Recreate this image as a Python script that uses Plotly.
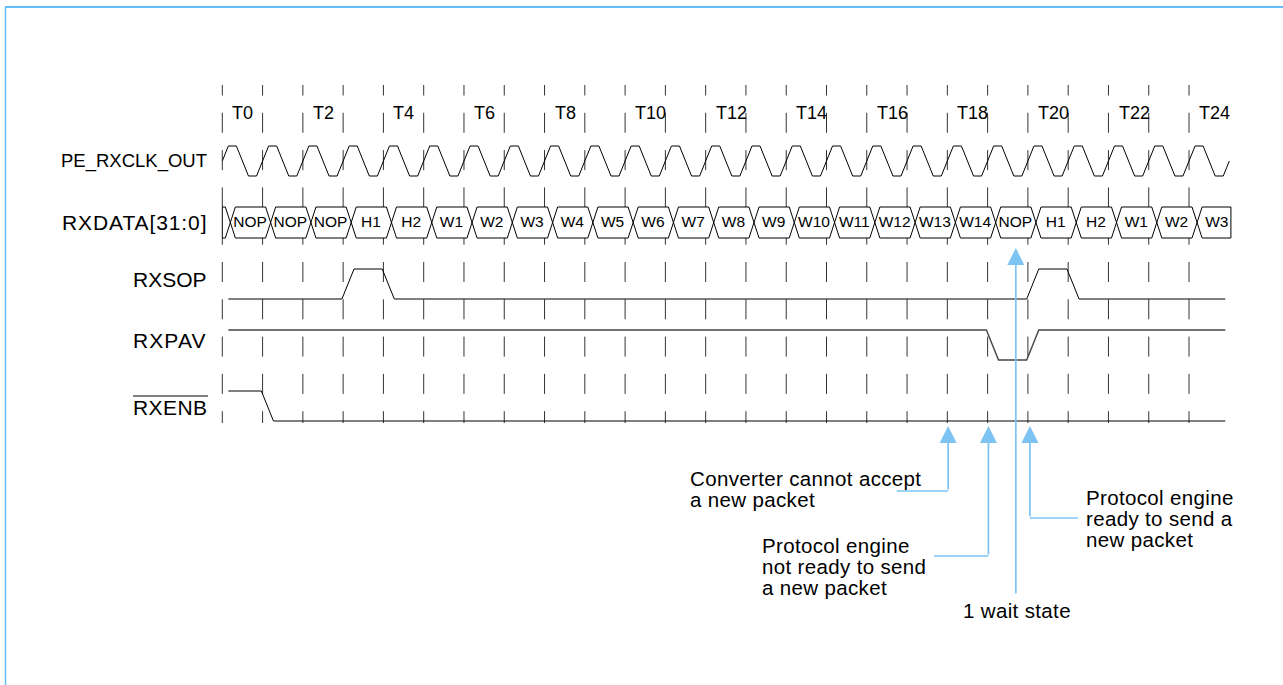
import plotly.graph_objects as go

# ---------------- data ----------------
tick_cycles = list(range(25))                      # T0 .. T24 tick marks
tick_label_cycles = [0, 2, 4, 6, 8, 10, 12, 14, 16, 18, 20, 22, 24]
tick_labels = ["T0", "T2", "T4", "T6", "T8", "T10", "T12", "T14", "T16", "T18", "T20", "T22", "T24"]

signal_names = ["PE_RXCLK_OUT", "RXDATA[31:0]", "RXSOP", "RXPAV", "RXENB"]

clock_cycles = 25
data_words = ["NOP", "NOP", "NOP", "H1", "H2", "W1", "W2", "W3", "W4", "W5", "W6", "W7",
              "W8", "W9", "W10", "W11", "W12", "W13", "W14", "NOP", "H1", "H2", "W1", "W2", "W3"]
rxsop_levels = [0, 0, 0, 1, 0, 0, 0, 0, 0, 0, 0, 0, 0, 0, 0, 0, 0, 0, 0, 0, 1, 0, 0, 0, 0]
rxpav_levels = [1, 1, 1, 1, 1, 1, 1, 1, 1, 1, 1, 1, 1, 1, 1, 1, 1, 1, 1, 0, 1, 1, 1, 1, 1]
rxenb_levels = [1, 0, 0, 0, 0, 0, 0, 0, 0, 0, 0, 0, 0, 0, 0, 0, 0, 0, 0, 0, 0, 0, 0, 0, 0]

notes = [["Converter cannot accept", "a new packet"],
         ["Protocol engine", "not ready to send", "a new packet"],
         ["Protocol engine", "ready to send a", "new packet"],
         ["1 wait state"]]
note_cycles = [18.02, 19.02, 20.05, 19.7]      # where each arrow points (in clock cycles)

# ---------------- layout constants ----------------
W, H = 1283, 685
T0_PX, PERIOD_PX = 222.3, 40.28
FONT = "Liberation Sans"
BLUE = "#7DC4F5"
FRAME = "#66BEFF"

ROW = {  # (high y, low y) in page pixels
    "clk": (146, 176), "data": (207, 238), "sop": (269, 299), "pav": (330, 360), "enb": (391, 421)}
LABEL_Y = [161, 222.5, 279, 340, 407]
LABEL_SIZE = [18.5, 21, 21, 21, 21]
LABEL_SPACING = [0, 0.9, 0, 1.1, 0.4]


def px2t(px):
    return (px - T0_PX) / PERIOD_PX


def spaced(text, ls):
    if not ls:
        return text
    return '<span style="letter-spacing:%spx">%s</span>' % (ls, text)


fig = go.Figure()

# ---- vertical dashed tick lines ----
tx, ty = [], []
y_top, y_bot, d0, dper, dlen = 85, 423, 75.5, 37.3, 20
band = ROW["data"]
for k in tick_cycles:
    s = d0
    while s < y_bot:
        a, b = max(s, y_top), min(s + dlen, y_bot)
        if a < b:
            pieces = []
            if a < band[0]:
                pieces.append((a, min(b, band[0])))
            if b > band[1]:
                pieces.append((max(a, band[1]), b))
            for p, q in pieces:
                tx += [k, k, None]
                ty += [p, q, None]
        s += dper
fig.add_trace(go.Scatter(x=tx, y=ty, mode="lines", line=dict(color="#333333", width=1),
                         hoverinfo="skip", showlegend=False))

# ---- clock ----
hi, lo = ROW["clk"]
mid = (hi + lo) / 2
cx, cy = [0], [mid]
for k in range(clock_cycles):
    cx += [k + 0.15, k + 0.35, k + 0.65, k + 0.85]
    cy += [hi, hi, lo, lo]
cx.append(clock_cycles)
cy.append(mid)
fig.add_trace(go.Scatter(x=cx, y=cy, mode="lines", line=dict(color="black", width=1),
                         hoverinfo="skip", showlegend=False))

# ---- data bus ----
top, bot = ROW["data"]
dmid = (top + bot) / 2
h = 0.125
n = len(data_words)
end = n + 0.04
ax_, ay_ = [0], [top]
bx_, by_ = [0], [bot]
up = True
for k in range(n):
    c = k + 0.2
    if up:
        ax_ += [c - h, c + h]; ay_ += [top, bot]
        bx_ += [c - h, c + h]; by_ += [bot, top]
    else:
        ax_ += [c - h, c + h]; ay_ += [bot, top]
        bx_ += [c - h, c + h]; by_ += [top, bot]
    up = not up
ax_ += [end, end]; ay_ += [ay_[-1], by_[-1]]
bx_ += [end]; by_ += [by_[-1]]
for xs, ys in ((ax_, ay_), (bx_, by_), ([0, 0], [top, bot])):
    fig.add_trace(go.Scatter(x=xs, y=ys, mode="lines", line=dict(color="black", width=1),
                             hoverinfo="skip", showlegend=False))
fig.add_trace(go.Scatter(x=[k + 0.69 for k in range(n)], y=[dmid + 0.5] * n, mode="text",
                         text=data_words, textfont=dict(family=FONT, size=15.5, color="black"),
                         hoverinfo="skip", showlegend=False))


# ---- level signals ----
def level_wave(levels, row, color, width):
    hi_, lo_ = ROW[row]
    yv = lambda v: hi_ if v else lo_
    xs, ys = [0.15], [yv(levels[0])]
    for k in range(1, len(levels)):
        if levels[k] != levels[k - 1]:
            xs += [k - 0.03, k + 0.27]
            ys += [yv(levels[k - 1]), yv(levels[k])]
    xs.append(len(levels) - 0.1)
    ys.append(yv(levels[-1]))
    fig.add_trace(go.Scatter(x=xs, y=ys, mode="lines", line=dict(color=color, width=width),
                             hoverinfo="skip", showlegend=False))


level_wave(rxsop_levels, "sop", "black", 1)
level_wave(rxpav_levels, "pav", "#444444", 1.4)
level_wave(rxenb_levels, "enb", "black", 1)

annotations = []
# ---- tick labels ----
for k, lab in zip(tick_label_cycles, tick_labels):
    annotations.append(dict(x=k + 0.2, y=113, xref="x", yref="y", text=lab, showarrow=False,
                            xanchor="left", yanchor="middle",
                            font=dict(family=FONT, size=18, color="black")))
# ---- signal names ----
for name, yy, fs, ls in zip(signal_names, LABEL_Y, LABEL_SIZE, LABEL_SPACING):
    annotations.append(dict(x=px2t(209), y=yy, xref="x", yref="y", text=spaced(name, ls),
                            showarrow=False, xanchor="right", yanchor="middle",
                            font=dict(family=FONT, size=fs, color="black")))

# ---- callouts ----
note_font = dict(family=FONT, size=20.5, color="black")
note_text_pos = [(688, 478, "left"), (760, 545, "left"), (1084, 497, "left"), (1017, 610, "center")]
LINE_STEP = 21
leader_from = [896.7, 934, 1078, None]
leader_y = [491, 556, 518, 595]
tip_y = [426, 426, 426, 248]
for i, lines in enumerate(notes):
    lx, ly, anc = note_text_pos[i]
    for j, line in enumerate(lines):
        annotations.append(dict(x=px2t(lx), y=ly + j * LINE_STEP, xref="x", yref="y",
                                text=spaced(line, 0.35),
                                showarrow=False, xanchor=anc, yanchor="middle", font=note_font))
    xt = note_cycles[i]
    if leader_from[i] is not None:
        fig.add_trace(go.Scatter(x=[px2t(leader_from[i]), xt], y=[leader_y[i], leader_y[i]],
                                 mode="lines", line=dict(color=BLUE, width=1.5),
                                 hoverinfo="skip", showlegend=False))
    annotations.append(dict(x=xt, y=tip_y[i], ax=xt, ay=leader_y[i], xref="x", yref="y",
                            axref="x", ayref="y", text="", showarrow=True, arrowhead=2,
                            arrowsize=2.0, arrowwidth=1.7, arrowcolor=BLUE, standoff=0))

# ---- frame + RXENB overline (active-low marker) ----
shapes = [
    dict(type="line", xref="paper", yref="paper", x0=5 / W, x1=1, y0=1 - 7 / H, y1=1 - 7 / H,
         line=dict(color=FRAME, width=2)),
    dict(type="line", xref="paper", yref="paper", x0=5.5 / W, x1=5.5 / W, y0=0, y1=1 - 7 / H,
         line=dict(color=FRAME, width=1.5)),
    dict(type="line", xref="x", yref="y", x0=px2t(133), x1=px2t(208), y0=396, y1=396,
         line=dict(color="black", width=1.2)),
]

fig.update_layout(
    width=W, height=H, margin=dict(l=0, r=0, t=0, b=0),
    paper_bgcolor="white", plot_bgcolor="white",
    xaxis=dict(range=[px2t(0), px2t(W)], visible=False, fixedrange=True),
    yaxis=dict(range=[H, 0], visible=False, fixedrange=True),
    annotations=annotations, shapes=shapes, showlegend=False,
)

fig.write_html("out.html", config={"displayModeBar": False},
               post_script="document.body.style.margin='0';")
